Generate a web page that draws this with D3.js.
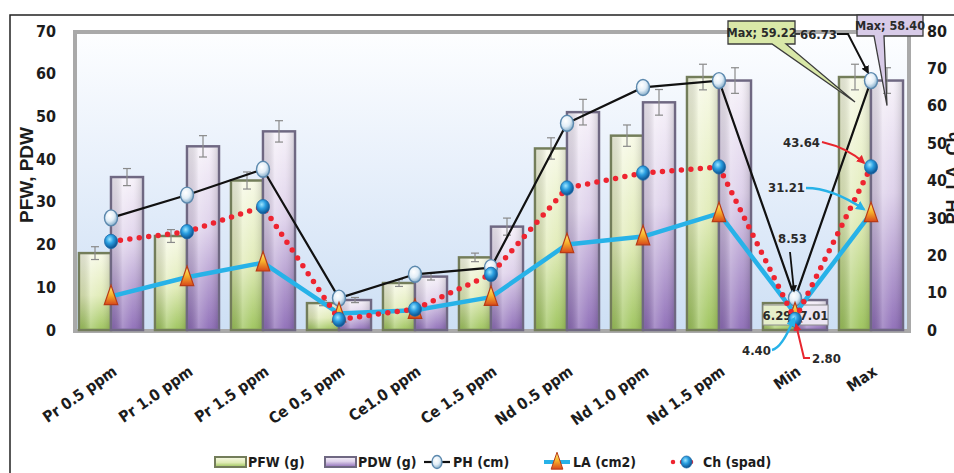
<!DOCTYPE html>
<html>
<head>
<meta charset="utf-8">
<script src="https://cdn.jsdelivr.net/npm/d3@7"></script>
<style>
  body { margin: 0; background: #fff; }
  svg { display: block; }
</style>
</head>
<body>
<svg id="chart" width="954" height="473"></svg>
<script>
// ---- data ----
const categories = ["Pr 0.5 ppm", "Pr 1.0 ppm", "Pr 1.5 ppm", "Ce 0.5 ppm", "Ce1.0 ppm", "Ce 1.5 ppm",
                    "Nd 0.5 ppm", "Nd 1.0 ppm", "Nd 1.5 ppm", "Min", "Max"];
const pfw    = [18.0, 22.0, 35.0, 6.29, 11.0, 17.0, 42.5, 45.5, 59.22, 6.29, 59.22];
const pdw    = [35.8, 43.0, 46.5, 7.01, 12.5, 24.2, 51.0, 53.3, 58.40, 7.01, 58.40];
const pfwErr = [1.5, 1.5, 2.0, 0.6, 0.8, 1.0, 2.5, 2.5, 3.0, 0, 3.0];
const pdwErr = [2.0, 2.5, 2.5, 0.6, 0.8, 2.0, 3.0, 3.0, 3.0, 0, 3.0];
const ph     = [30.0, 36.1, 43.0, 8.53, 14.9, 16.7, 55.3, 64.9, 66.73, 8.53, 66.73];
const la     = [9.0, 14.1, 18.0, 4.40, 5.3, 8.8, 22.9, 25.0, 31.21, 4.40, 31.21];
const ch     = [23.7, 26.3, 33.0, 2.80, 5.6, 14.9, 38.0, 42.0, 43.64, 2.80, 43.64];
const leftTicks  = [0, 10, 20, 30, 40, 50, 60, 70];
const rightTicks = [0, 10, 20, 30, 40, 50, 60, 70, 80];
const legendLabels = ["PFW (g)", "PDW (g)", "PH (cm)", "LA (cm2)", "Ch (spad)"];

// ---- setup ----
const svg = d3.select("#chart");
const narrow = "'DejaVu Sans Condensed','Liberation Sans Narrow',sans-serif";
const plot = { left: 75, top: 32, right: 909, bottom: 331 };

const x = d3.scaleBand().domain(categories).range([73, 909]);
const sub = d3.scaleBand().domain(["PFW", "PDW"]).range([6, x.bandwidth() - 6]);
const yL = d3.scaleLinear().domain([0, 70]).range([330, 31]);
const yR = d3.scaleLinear().domain([0, 80]).range([330, 31]);
const cx = c => x(c) + x.bandwidth() / 2;

const defs = svg.append("defs");
function linGrad(id, stops, x2 = 0, y2 = 1) {
  const g = defs.append("linearGradient").attr("id", id)
    .attr("x1", 0).attr("y1", 0).attr("x2", x2).attr("y2", y2);
  stops.forEach(([o, c]) => g.append("stop").attr("offset", o).attr("stop-color", c));
}
function radGrad(id, stops) {
  const g = defs.append("radialGradient").attr("id", id)
    .attr("cx", "40%").attr("cy", "35%").attr("r", "65%");
  stops.forEach(([o, c]) => g.append("stop").attr("offset", o).attr("stop-color", c));
}
linGrad("bg", [[0, "#fdfeff"], [0.45, "#e8f0fb"], [1, "#cddff4"]]);
linGrad("gPFW", [[0, "#f7f9e6"], [0.55, "#e0ebb6"], [1, "#9cc35a"]]);
linGrad("gPDW", [[0, "#f6f1f9"], [0.45, "#ddd0ea"], [1, "#8d6cb7"]]);
linGrad("sheen", [[0, "rgba(0,0,0,0.10)"], [0.35, "rgba(255,255,255,0.25)"], [0.7, "rgba(255,255,255,0.05)"], [1, "rgba(0,0,0,0.12)"]], 1, 0);
linGrad("gTri", [[0, "#fff07a"], [0.5, "#f6b22c"], [1, "#d8481a"]]);
radGrad("gPH", [[0, "#ffffff"], [0.55, "#e2eef7"], [1, "#86aecb"]]);
radGrad("gCh", [[0, "#9fe6ff"], [0.45, "#2a9ee0"], [1, "#0c4f8c"]]);

function arrowHead(id, color) {
  defs.append("marker").attr("id", id)
    .attr("viewBox", "0 0 10 10").attr("refX", 8).attr("refY", 5)
    .attr("markerWidth", 4).attr("markerHeight", 4).attr("orient", "auto")
    .append("path").attr("d", "M0,0L10,5L0,10z").attr("fill", color);
}
arrowHead("arK", "#111");
arrowHead("arR", "#e8262e");
arrowHead("arC", "#27b2e8");

// ---- chart frame ----
svg.append("rect").attr("x", 10).attr("y", 15).attr("width", 980).attr("height", 500)
  .attr("fill", "#fff").attr("stroke", "#222").attr("stroke-width", 1.5);

svg.append("rect").attr("x", plot.left).attr("y", plot.top)
  .attr("width", plot.right - plot.left).attr("height", plot.bottom - plot.top)
  .attr("fill", "url(#bg)").attr("stroke", "#a9a9a9").attr("stroke-width", 4);

// ---- bars ----
const barData = [];
categories.forEach((c, i) => {
  barData.push({ c, key: "PFW", v: pfw[i], e: pfwErr[i] });
  barData.push({ c, key: "PDW", v: pdw[i], e: pdwErr[i] });
});
const bars = svg.append("g");
bars.selectAll("rect.bar").data(barData).join("rect").attr("class", "bar")
  .attr("x", d => x(d.c) + sub(d.key))
  .attr("y", d => yL(d.v))
  .attr("width", sub.bandwidth())
  .attr("height", d => yL(0) - yL(d.v))
  .attr("fill", d => d.key === "PFW" ? "url(#gPFW)" : "url(#gPDW)")
  .attr("stroke", d => d.key === "PFW" ? "#737d5a" : "#6f6882")
  .attr("stroke-width", 2.5);
bars.selectAll("rect.sheen").data(barData).join("rect").attr("class", "sheen")
  .attr("x", d => x(d.c) + sub(d.key) + 1.5)
  .attr("y", d => yL(d.v) + 1.5)
  .attr("width", sub.bandwidth() - 3)
  .attr("height", d => Math.max(0, yL(0) - yL(d.v) - 3))
  .attr("fill", "url(#sheen)");

// error bars
const eb = svg.append("g").attr("stroke", "#8a8a8a").attr("stroke-width", 1.2);
barData.filter(d => d.e > 0).forEach(d => {
  const bx = x(d.c) + sub(d.key) + sub.bandwidth() / 2;
  eb.append("line").attr("x1", bx).attr("x2", bx).attr("y1", yL(d.v + d.e)).attr("y2", yL(d.v - d.e));
  eb.append("line").attr("x1", bx - 4).attr("x2", bx + 4).attr("y1", yL(d.v + d.e)).attr("y2", yL(d.v + d.e));
  eb.append("line").attr("x1", bx - 4).attr("x2", bx + 4).attr("y1", yL(d.v - d.e)).attr("y2", yL(d.v - d.e));
});

// Min bar value labels (boxed), under the line series
const iMax = categories.indexOf("Max"), iMin = categories.indexOf("Min");
const minBoxes = [
  { v: pfw[iMin], x: 763, w: 28, fill: "#e6efcb" },
  { v: pdw[iMin], x: 800, w: 28, fill: "#ece6f2" }
];
minBoxes.forEach(b => {
  svg.append("rect").attr("x", b.x).attr("y", 305).attr("width", b.w).attr("height", 20)
    .attr("fill", b.fill).attr("stroke", "#8c8c8c").attr("stroke-width", 1);
  svg.append("text").attr("x", b.x + b.w / 2).attr("y", 319.5).attr("text-anchor", "middle")
    .attr("font-family", narrow).attr("font-weight", "bold").attr("font-size", 13)
    .attr("fill", "#2a2a2a").text(d3.format(".2f")(b.v));
});

// ---- line series (right axis) ----
const line = d3.line().x((d, i) => cx(categories[i])).y(d => yR(d));

function triPath(px, py, s) {
  return `M${px},${py - s * 0.75}L${px + s * 0.45},${py + s * 0.55}L${px - s * 0.45},${py + s * 0.55}Z`;
}

// PH
svg.append("path").datum(ph).attr("d", line).attr("fill", "none")
  .attr("stroke", "#111").attr("stroke-width", 2.2);
svg.append("g").selectAll("ellipse").data(ph).join("ellipse")
  .attr("cx", (d, i) => cx(categories[i])).attr("cy", d => yR(d))
  .attr("rx", 6.5).attr("ry", 8)
  .attr("fill", "url(#gPH)").attr("stroke", "#5b88ad").attr("stroke-width", 1.4);

// LA
svg.append("path").datum(la).attr("d", line).attr("fill", "none")
  .attr("stroke", "#27b2e8").attr("stroke-width", 4.5).attr("stroke-linejoin", "round");
svg.append("g").selectAll("path").data(la).join("path")
  .attr("d", (d, i) => triPath(cx(categories[i]), yR(d), 15))
  .attr("fill", "url(#gTri)").attr("stroke", "#b83a16").attr("stroke-width", 1.2);

// Ch
svg.append("path").datum(ch).attr("d", line).attr("fill", "none")
  .attr("stroke", "#ee2430").attr("stroke-width", 5.5)
  .attr("stroke-linecap", "round").attr("stroke-dasharray", "0 9.5");
svg.append("g").selectAll("ellipse").data(ch).join("ellipse")
  .attr("cx", (d, i) => cx(categories[i])).attr("cy", d => yR(d))
  .attr("rx", 6.5).attr("ry", 7.2)
  .attr("fill", "url(#gCh)").attr("stroke", "#1a6aa8").attr("stroke-width", 0.8);

// ---- axes ----
const axL = svg.append("g").attr("transform", "translate(56,0)")
  .call(d3.axisLeft(yL).tickValues(leftTicks).tickSize(0).tickPadding(0));
const axR = svg.append("g").attr("transform", "translate(927,0)")
  .call(d3.axisRight(yR).tickValues(rightTicks).tickSize(0).tickPadding(0));
[axL, axR].forEach(a => {
  a.select(".domain").remove();
  a.selectAll("text").attr("font-family", narrow).attr("font-weight", "bold")
    .attr("font-size", 16).attr("fill", "#1c1c1c");
});

// category labels, rotated
const xl = svg.append("g");
categories.forEach(c => {
  xl.append("text")
    .attr("transform", `translate(${cx(c) + 7},374) rotate(-35)`)
    .attr("text-anchor", "end")
    .attr("font-family", narrow).attr("font-weight", "bold").attr("font-size", 15.5)
    .attr("fill", "#1c1c1c").text(c);
});

// axis titles
svg.append("text").attr("transform", "translate(33,175) rotate(-90)")
  .attr("text-anchor", "middle").attr("font-family", "'Liberation Sans',Arial,sans-serif")
  .attr("font-weight", "bold").attr("font-size", 19).attr("fill", "#1c1c1c").text("PFW, PDW");
svg.append("text").attr("transform", "translate(959,178) rotate(-90)")
  .attr("text-anchor", "middle").attr("font-family", "'Liberation Sans',Arial,sans-serif")
  .attr("font-weight", "bold").attr("font-size", 18).attr("fill", "#1c1c1c").text("PH, LA, Ch");

// ---- value annotations ----
const ann = svg.append("g").attr("font-family", narrow).attr("font-weight", "bold")
  .attr("font-size", 13).attr("fill", "#2a2a2a");
const xMax = cx("Max"), xMin = cx("Min");

// Max PH
ann.append("text").attr("x", 800).attr("y", 39).text(d3.format(".2f")(ph[iMax]));
svg.append("line").attr("x1", 795).attr("x2", 800).attr("y1", 34).attr("y2", 34)
  .attr("stroke", "#111").attr("stroke-width", 1.5);
svg.append("path").attr("d", `M837,34L848,34L${xMax - 3},${yR(ph[iMax]) - 8}`)
  .attr("fill", "none").attr("stroke", "#111").attr("stroke-width", 2)
  .attr("marker-end", "url(#arK)");
// Max Ch
ann.append("text").attr("x", 783).attr("y", 147).text(d3.format(".2f")(ch[iMax]));
svg.append("path").attr("d", `M822,142Q848,148 ${xMax - 7},${yR(ch[iMax]) - 4}`)
  .attr("fill", "none").attr("stroke", "#e8262e").attr("stroke-width", 2.2)
  .attr("marker-end", "url(#arR)");
// Max LA
ann.append("text").attr("x", 768).attr("y", 192).text(d3.format(".2f")(la[iMax]));
svg.append("path").attr("d", `M806,188Q832,188 ${xMax - 7},${yR(la[iMax]) - 4}`)
  .attr("fill", "none").attr("stroke", "#27b2e8").attr("stroke-width", 2.4)
  .attr("marker-end", "url(#arC)");
// Min PH
ann.append("text").attr("x", 778).attr("y", 243).text(d3.format(".2f")(ph[iMin]));
svg.append("path").attr("d", `M790,252L${xMin - 1},${yR(ph[iMin]) - 7}`)
  .attr("fill", "none").attr("stroke", "#111").attr("stroke-width", 1.8)
  .attr("marker-end", "url(#arK)");
// Min LA
ann.append("text").attr("x", 742).attr("y", 355).text(d3.format(".2f")(la[iMin]));
svg.append("path").attr("d", `M772,350Q782,348 ${xMin - 1},${yR(la[iMin]) + 5}`)
  .attr("fill", "none").attr("stroke", "#27b2e8").attr("stroke-width", 2.4)
  .attr("marker-end", "url(#arC)");
// Min Ch
ann.append("text").attr("x", 812).attr("y", 363).text(d3.format(".2f")(ch[iMin]));
svg.append("path").attr("d", `M810,358L804,358L${xMin + 1},${yR(ch[iMin]) + 5}`)
  .attr("fill", "none").attr("stroke", "#e8262e").attr("stroke-width", 2)
  .attr("marker-end", "url(#arR)");

// Max callouts with pointer tails
function callout(box, tip, base, fill, label) {
  const g = svg.append("g");
  g.append("path")
    .attr("d", `M${box.x},${box.y}H${box.x + box.w}V${box.y + box.h}H${base[1]}L${tip[0]},${tip[1]}L${base[0]},${box.y + box.h}H${box.x}Z`)
    .attr("fill", fill).attr("stroke", "#3c3c3c").attr("stroke-width", 1.3);
  g.append("text").attr("x", box.x + box.w / 2).attr("y", box.y + box.h / 2 + 4.5)
    .attr("text-anchor", "middle").attr("font-family", narrow).attr("font-weight", "bold")
    .attr("font-size", 12.5).attr("fill", "#2a2a2a").text(label);
}
const pfwMaxX = x("Max") + sub("PFW") + sub.bandwidth() / 2;
const pdwMaxX = x("Max") + sub("PDW") + sub.bandwidth() / 2;
callout({ x: 728, y: 21, w: 67, h: 23 }, [pfwMaxX, yL(pfw[iMax]) + 25], [772, 786],
        "#d9e8a8", "Max; " + d3.format(".2f")(pfw[iMax]));
callout({ x: 857, y: 15, w: 66, h: 21 }, [pdwMaxX, yL(pdw[iMax]) + 25], [874, 884],
        "#d8cbe8", "Max; " + d3.format(".2f")(pdw[iMax]));

// ---- legend ----
const lg = svg.append("g").attr("font-family", narrow).attr("font-weight", "bold")
  .attr("font-size", 14).attr("fill", "#1c1c1c");
const ly = 462;
lg.append("rect").attr("x", 215).attr("y", ly - 5).attr("width", 31).attr("height", 10)
  .attr("fill", "url(#gPFW)").attr("stroke", "#737d5a").attr("stroke-width", 2);
lg.append("text").attr("x", 248).attr("y", ly + 5).text(legendLabels[0]);
lg.append("rect").attr("x", 325).attr("y", ly - 5).attr("width", 31).attr("height", 10)
  .attr("fill", "url(#gPDW)").attr("stroke", "#6f6882").attr("stroke-width", 2);
lg.append("text").attr("x", 358).attr("y", ly + 5).text(legendLabels[1]);
lg.append("line").attr("x1", 424).attr("x2", 450).attr("y1", ly).attr("y2", ly)
  .attr("stroke", "#111").attr("stroke-width", 2.2);
lg.append("ellipse").attr("cx", 437).attr("cy", ly).attr("rx", 5).attr("ry", 6.5)
  .attr("fill", "url(#gPH)").attr("stroke", "#5b88ad").attr("stroke-width", 1.3);
lg.append("text").attr("x", 453).attr("y", ly + 5).text(legendLabels[2]);
lg.append("line").attr("x1", 544).attr("x2", 570).attr("y1", ly).attr("y2", ly)
  .attr("stroke", "#27b2e8").attr("stroke-width", 4);
lg.append("path").attr("d", triPath(557, ly, 13))
  .attr("fill", "url(#gTri)").attr("stroke", "#b83a16").attr("stroke-width", 1);
lg.append("text").attr("x", 573).attr("y", ly + 5).text(legendLabels[3]);
lg.append("line").attr("x1", 673).attr("x2", 700).attr("y1", ly).attr("y2", ly)
  .attr("stroke", "#ee2430").attr("stroke-width", 4.5)
  .attr("stroke-linecap", "round").attr("stroke-dasharray", "0 9");
lg.append("ellipse").attr("cx", 686.5).attr("cy", ly).attr("rx", 5.5).attr("ry", 6)
  .attr("fill", "url(#gCh)").attr("stroke", "#1a6aa8").attr("stroke-width", 0.8);
lg.append("text").attr("x", 703).attr("y", ly + 5).text(legendLabels[4]);
</script>
</body>
</html>
